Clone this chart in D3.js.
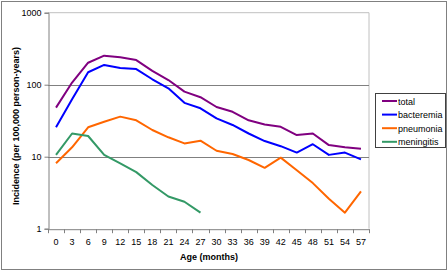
<!DOCTYPE html>
<html><head><meta charset="utf-8">
<script src="https://cdn.jsdelivr.net/npm/d3@7"></script>
<style>body{margin:0;background:#fff}svg{display:block;font-family:"Liberation Sans",Arial,sans-serif}</style>
</head><body><svg id="c" width="448" height="271"></svg>
<script>
const ages = [0,3,6,9,12,15,18,21,24,27,30,33,36,39,42,45,48,51,54,57];
const total = [48,107,202,253,240,220,156,116,80,67,49,42,32,28,26,20,21,14.5,13.5,12.9];
const bacteremia = [25.6,63,149,188,171,165,119,89,56,47,34,27.6,21,16.5,14,11.4,14.9,10.6,11.4,9.2];
const pneumonia = [8.1,13.5,25.6,30.6,36,32,23.5,18.6,15.3,16.7,12.1,10.9,9.0,7.0,9.7,6.5,4.3,2.6,1.67,3.3];
const meningitis = [10.6,21,19.4,10.6,8.1,6.1,4.05,2.8,2.37,1.67];
const seriesNames = ["total","bacteremia","pneumonia","meningitis"];
const seriesColors = ["#800080","#0000ff","#ff6600","#339966"];
const yTicks = [1,10,100,1000];

const svg = d3.select("#c");
const L=48, R=369, T=12.7, B=228.7;
svg.append("rect").attr("x",1.5).attr("y",1.5).attr("width",445).attr("height",268)
  .attr("fill","none").attr("stroke","#808080").attr("stroke-width",1);

const x = d3.scaleBand().domain(ages).range([L,R]);
const y = d3.scaleLog().domain([1,1000]).range([B,T]);

// plot border
svg.append("path").attr("d",`M${L},${T}H${R}V${B}`).attr("fill","none").attr("stroke","#c0c0c0");
// gridlines
svg.append("g").selectAll("line").data([10,100]).join("line")
  .attr("x1",L).attr("x2",R).attr("y1",d=>Math.round(y(d))+0.5).attr("y2",d=>Math.round(y(d))+0.5)
  .attr("stroke","#808080");

// y axis
const ya = svg.append("g").attr("transform",`translate(${L+0.5},0)`)
  .call(d3.axisLeft(y).tickValues(yTicks).tickFormat(d3.format("d")).tickSize(4).tickPadding(3));
ya.select(".domain").attr("stroke","#808080");
ya.selectAll(".tick line").attr("stroke","#808080");
ya.selectAll("text").attr("font-size",9).attr("fill","#000").attr("font-family","Liberation Sans, Arial, sans-serif");

// x axis
const xa = svg.append("g").attr("transform",`translate(0,${B+0.5})`)
  .call(d3.axisBottom(x).tickSize(0).tickPadding(9));
xa.select(".domain").attr("stroke","#808080");
xa.selectAll("text").attr("font-size",9).attr("fill","#000").attr("font-family","Liberation Sans, Arial, sans-serif");
const bounds = ages.map(a=>x(a)).concat([R]);
xa.selectAll(".bt").data(bounds).join("line").attr("class","bt")
  .attr("x1",d=>Math.round(d)+0.5).attr("x2",d=>Math.round(d)+0.5).attr("y1",0).attr("y2",4).attr("stroke","#808080");

// lines
const data = [total,bacteremia,pneumonia,meningitis];
const line = d3.line().x((d,i)=>x(ages[i])+x.bandwidth()/2).y(d=>y(d));
data.forEach((s,k)=>{
  svg.append("path").datum(s).attr("d",line).attr("fill","none")
    .attr("stroke",seriesColors[k]).attr("stroke-width",2).attr("stroke-linejoin","round");
});

// titles
svg.append("text").attr("x",209).attr("y",260).attr("text-anchor","middle")
  .attr("font-size",9).attr("font-weight","bold").text("Age (months)");
svg.append("text").attr("transform","translate(19,126) rotate(-90)").attr("text-anchor","middle")
  .attr("font-size",9).attr("font-weight","bold").text("Incidence (per 100,000 person-years)");

// legend
const lg = svg.append("g");
lg.append("rect").attr("x",375.5).attr("y",93.5).attr("width",70).attr("height",54)
  .attr("fill","#fff").attr("stroke","#404040").attr("stroke-width",1);
seriesNames.forEach((n,i)=>{
  const yy = 101 + i*13.6;
  lg.append("line").attr("x1",382).attr("x2",397).attr("y1",yy).attr("y2",yy)
    .attr("stroke",seriesColors[i]).attr("stroke-width",2);
  lg.append("text").attr("x",398).attr("y",yy+3.5).attr("font-size",9).text(n);
});
</script></body></html>
